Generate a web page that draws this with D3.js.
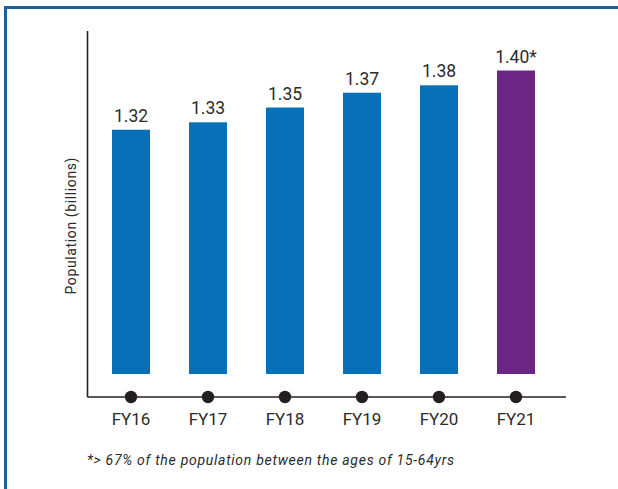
<!DOCTYPE html>
<html>
<head>
<meta charset="utf-8">
<script src="https://cdn.jsdelivr.net/npm/d3@7"></script>
<style>
  html, body { margin: 0; padding: 0; background: #fff; }
  svg { display: block; }
</style>
</head>
<body>
<svg id="chart" width="618" height="489"></svg>
<script>
const categories = ["FY16", "FY17", "FY18", "FY19", "FY20", "FY21"];
const values = [1.32, 1.33, 1.35, 1.37, 1.38, 1.40];
const valueLabels = ["1.32", "1.33", "1.35", "1.37", "1.38", "1.40*"];
const highlight = ["FY21"];
const yTitle = "Population (billions)";
const footnote = "*> 67% of the population between the ages of 15-64yrs";

const svg = d3.select("#chart");
const font = "Roboto, 'DejaVu Sans', sans-serif";
const textColor = "#2b2b2b";

// frame (top and left border)
svg.append("path")
  .attr("d", "M5.5,489 L5.5,7.5 L618,7.5")
  .attr("fill", "none")
  .attr("stroke", "#1c5f99")
  .attr("stroke-width", 3);

const x = d3.scalePoint().domain(categories).range([131, 516]);
const y = d3.scaleLinear().domain([0.99, 1.40]).range([374, 70.5]);
const barW = 38;
const baseY = 397;

// axes lines
svg.append("line")
  .attr("x1", 87.5).attr("x2", 87.5).attr("y1", 31).attr("y2", baseY)
  .attr("stroke", "#222").attr("stroke-width", 1.6);
svg.append("line")
  .attr("x1", 87.5).attr("x2", 566).attr("y1", baseY).attr("y2", baseY)
  .attr("stroke", "#222").attr("stroke-width", 1.6);

// bars
svg.selectAll("rect.bar").data(categories).enter().append("rect")
  .attr("class", "bar")
  .attr("x", d => x(d) - barW / 2)
  .attr("width", barW)
  .attr("y", (d, i) => y(values[i]))
  .attr("height", (d, i) => y(y.domain()[0]) - y(values[i]))
  .attr("fill", d => highlight.includes(d) ? "#6c2582" : "#0770b9");

// value labels
svg.selectAll("text.val").data(categories).enter().append("text")
  .attr("class", "val")
  .attr("x", d => x(d))
  .attr("y", (d, i) => y(values[i]) - 8)
  .attr("text-anchor", "middle")
  .attr("font-family", font)
  .attr("font-size", 17.5)
  .attr("fill", textColor)
  .text((d, i) => valueLabels[i]);

// dots
svg.selectAll("circle.dot").data(categories).enter().append("circle")
  .attr("class", "dot")
  .attr("cx", d => x(d))
  .attr("cy", baseY)
  .attr("r", 6.2)
  .attr("fill", "#231f20");

// category labels
svg.selectAll("text.cat").data(categories).enter().append("text")
  .attr("class", "cat")
  .attr("x", d => x(d))
  .attr("y", 425)
  .attr("text-anchor", "middle")
  .attr("font-family", font)
  .attr("font-size", 17)
  .attr("fill", textColor)
  .text(d => d);

// y title
svg.append("text")
  .attr("transform", "translate(76,226) rotate(-90)")
  .attr("text-anchor", "middle")
  .attr("font-family", font)
  .attr("font-size", 14)
  .attr("textLength", 137)
  .attr("lengthAdjust", "spacing")
  .attr("fill", textColor)
  .text(yTitle);

// footnote
svg.append("text")
  .attr("x", 87)
  .attr("y", 465)
  .attr("font-family", font)
  .attr("font-style", "italic")
  .attr("font-size", 14)
  .attr("textLength", 367)
  .attr("lengthAdjust", "spacing")
  .attr("fill", textColor)
  .text(footnote);
</script>
</body>
</html>
